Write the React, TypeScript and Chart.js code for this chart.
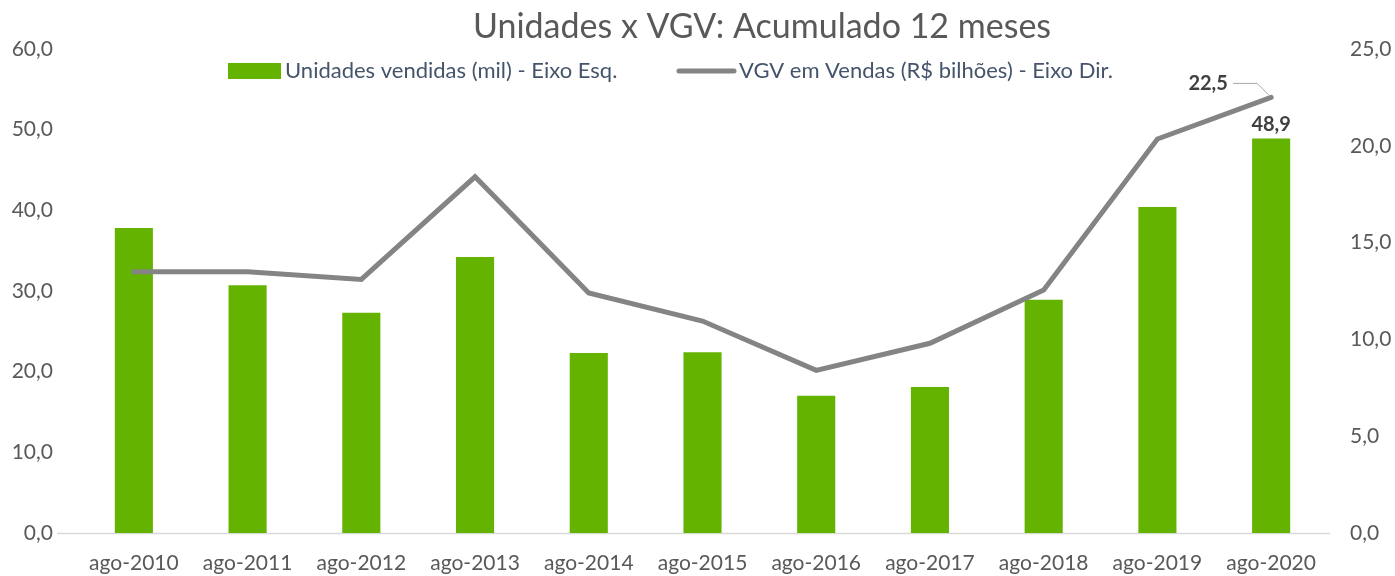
import React, { useEffect, useRef } from "react";
import { Chart, registerables } from "chart.js";

Chart.register(...registerables);

const categories = [
  "ago-2010", "ago-2011", "ago-2012", "ago-2013", "ago-2014", "ago-2015",
  "ago-2016", "ago-2017", "ago-2018", "ago-2019", "ago-2020",
];
const unidades = [37.8, 30.7, 27.3, 34.2, 22.3, 22.4, 17.0, 18.1, 28.9, 40.4, 48.9];
const vgv = [13.5, 13.5, 13.1, 18.4, 12.4, 10.95, 8.4, 9.8, 12.55, 20.35, 22.5];
const leftAxis = { min: 0, max: 60, step: 10 };
const rightAxis = { min: 0, max: 25, step: 5 };
const titleText = "Unidades x VGV: Acumulado 12 meses";
const barLabel = "Unidades vendidas (mil) - Eixo Esq.";
const lineLabel = "VGV em Vendas (R$ bilhões) - Eixo Dir.";

const FONT = "Lato, 'Open Sans', sans-serif";
const GREEN = "#63b300";
const GRAY_LINE = "#848484";
const TEXT = "#595959";
const LEGEND_TEXT = "#44546a";

const fmt = (v: number) => v.toFixed(1).replace(".", ",");

const decorPlugin = {
  id: "decor",
  beforeDatasetsDraw(chart: any) {
    const { ctx, chartArea } = chart;
    ctx.save();
    ctx.strokeStyle = "#d9d9d9";
    ctx.lineWidth = 1.5;
    ctx.beginPath();
    ctx.moveTo(chartArea.left - 20, chartArea.bottom + 0.5);
    ctx.lineTo(chartArea.right + 2, chartArea.bottom + 0.5);
    ctx.stroke();
    ctx.restore();
  },
  afterDraw(chart: any) {
    const { ctx } = chart;
    ctx.save();
    // Title
    ctx.fillStyle = TEXT;
    ctx.font = `34px ${FONT}`;
    ctx.textAlign = "center";
    ctx.textBaseline = "middle";
    ctx.fillText(titleText, 762, 27);

    // Legend
    ctx.font = `22px ${FONT}`;
    ctx.textAlign = "left";
    ctx.fillStyle = GREEN;
    ctx.fillRect(228, 63, 53, 16);
    ctx.fillStyle = LEGEND_TEXT;
    ctx.fillText(barLabel, 285, 71);
    ctx.strokeStyle = GRAY_LINE;
    ctx.lineWidth = 5;
    ctx.lineCap = "round";
    ctx.beginPath();
    ctx.moveTo(679, 71);
    ctx.lineTo(734, 71);
    ctx.stroke();
    ctx.fillText(lineLabel, 739, 71);

    // Data labels
    const barMeta = chart.getDatasetMeta(1);
    const lineMeta = chart.getDatasetMeta(0);
    const last = unidades.length - 1;
    const bar = barMeta.data[last];
    ctx.font = `bold 20px ${FONT}`;
    ctx.fillStyle = "#404040";
    ctx.textAlign = "center";
    ctx.textBaseline = "bottom";
    ctx.fillText(fmt(unidades[last]), bar.x, bar.y - 4);

    const pt = lineMeta.data[vgv.length - 1];
    ctx.textBaseline = "middle";
    ctx.fillText(fmt(vgv[vgv.length - 1]), pt.x - 63, pt.y - 14);
    ctx.strokeStyle = "#a6a6a6";
    ctx.lineWidth = 1;
    ctx.lineCap = "butt";
    ctx.beginPath();
    ctx.moveTo(pt.x - 38, pt.y - 14);
    ctx.lineTo(pt.x - 14, pt.y - 14);
    ctx.lineTo(pt.x - 2, pt.y - 2);
    ctx.stroke();
    ctx.restore();
  },
};

export default function App() {
  const ref = useRef<HTMLCanvasElement | null>(null);
  useEffect(() => {
    if (!ref.current) return;
    const chart = new Chart(ref.current, {
      type: "bar",
      data: {
        labels: categories,
        datasets: [
          {
            type: "line",
            label: lineLabel,
            data: vgv,
            yAxisID: "y1",
            borderColor: GRAY_LINE,
            borderWidth: 5,
            borderCapStyle: "round",
            borderJoinStyle: "miter",
            pointRadius: 0,
            tension: 0,
            order: 0,
          } as any,
          {
            type: "bar",
            label: barLabel,
            data: unidades,
            yAxisID: "y",
            backgroundColor: GREEN,
            borderWidth: 0,
            barPercentage: 1,
            categoryPercentage: 0.335,
            order: 1,
          },
        ],
      },
      options: {
        responsive: false,
        animation: false,
        devicePixelRatio: 1,
        layout: { padding: { top: 49, left: 0, right: 0, bottom: 0 } },
        plugins: {
          legend: { display: false },
          title: { display: false },
          tooltip: { enabled: false },
        },
        scales: {
          x: {
            type: "category",
            offset: true,
            grid: { display: false, drawTicks: false },
            border: { display: false },
            ticks: { color: TEXT, font: { family: FONT, size: 21 }, padding: 18, maxRotation: 0, autoSkip: false },
            afterFit: (s: any) => { s.height = 43; },
          },
          y: {
            position: "left",
            min: leftAxis.min,
            max: leftAxis.max,
            grid: { display: false, drawTicks: false },
            border: { display: false },
            ticks: {
              stepSize: leftAxis.step,
              color: TEXT,
              font: { family: FONT, size: 21 },
              padding: 24,
              callback: (v: any) => fmt(Number(v)),
            },
            afterFit: (s: any) => { s.width = 77; },
          },
          y1: {
            position: "right",
            min: rightAxis.min,
            max: rightAxis.max,
            grid: { display: false, drawTicks: false },
            border: { display: false },
            ticks: {
              stepSize: rightAxis.step,
              color: TEXT,
              font: { family: FONT, size: 21 },
              padding: 22,
              callback: (v: any) => fmt(Number(v)),
            },
            afterFit: (s: any) => { s.width = 67; },
          },
        },
      },
      plugins: [decorPlugin],
    } as any);
    return () => chart.destroy();
  }, []);
  return (
    <div style={{ position: "absolute", left: 0, top: 0, width: 1395, height: 576, background: "#fff" }}>
      <canvas ref={ref} width={1395} height={576} style={{ display: "block" }} />
    </div>
  );
}
